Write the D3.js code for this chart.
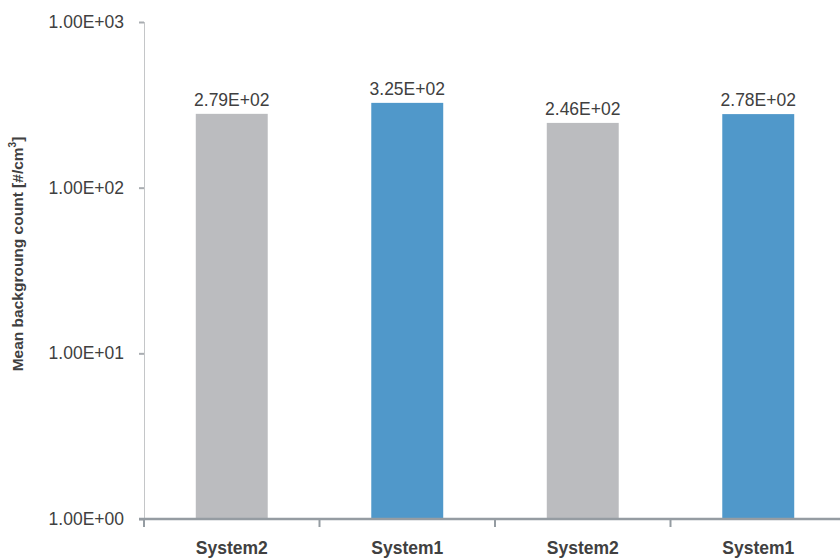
<!DOCTYPE html>
<html>
<head>
<meta charset="utf-8">
<script src="https://cdn.jsdelivr.net/npm/d3@7"></script>
<style>
  html, body { margin: 0; padding: 0; background: #ffffff; }
  svg { display: block; font-family: "Liberation Sans", Arial, sans-serif; }
</style>
</head>
<body>
<svg id="chart" width="840" height="559"></svg>
<script>
// Mean background count per measurement system
const categories = ["System2", "System1", "System2", "System1"];
const values = [279, 325, 246, 278];
const valueLabels = ["2.79E+02", "3.25E+02", "2.46E+02", "2.78E+02"];
const barColors = ["#bbbcbf", "#5098ca", "#bbbcbf", "#5098ca"];
const yTicks = [1, 10, 100, 1000];
const yTickLabels = ["1.00E+00", "1.00E+01", "1.00E+02", "1.00E+03"];

const svg = d3.select("#chart");
const plotLeft = 144, plotRight = 846, plotTop = 22, plotBottom = 519;

const x = d3.scaleBand()
  .domain(d3.range(categories.length))
  .range([plotLeft, plotRight])
  .paddingInner(0.59)
  .paddingOuter(0.295);

const y = d3.scaleLog()
  .domain([1, 1000])
  .range([plotBottom, plotTop]);

// Y axis: light vertical line with short ticks to the left
const yAxis = svg.append("g")
  .attr("transform", `translate(${plotLeft},0)`)
  .call(d3.axisLeft(y).tickValues(yTicks).tickSize(5).tickPadding(15)
    .tickFormat((d, i) => yTickLabels[i]));
yAxis.select(".domain").attr("stroke", "#c4c6c8").attr("stroke-width", 1)
  .attr("d", `M0.5,${plotTop}V${plotBottom}`);
yAxis.selectAll(".tick line").attr("stroke", "#a9adb1").attr("stroke-width", 2);
yAxis.selectAll(".tick text")
  .attr("fill", "#404040")
  .attr("font-size", "17.5px")
  .attr("font-family", "'Liberation Sans', Arial, sans-serif");

// Bars
svg.append("g").selectAll("rect")
  .data(values)
  .join("rect")
  .attr("x", (d, i) => x(i))
  .attr("width", x.bandwidth())
  .attr("y", d => y(d))
  .attr("height", d => plotBottom - y(d))
  .attr("fill", (d, i) => barColors[i]);

// Value labels above bars
svg.append("g").selectAll("text")
  .data(values)
  .join("text")
  .attr("x", (d, i) => x(i) + x.bandwidth() / 2)
  .attr("y", d => y(d) - 8)
  .attr("text-anchor", "middle")
  .attr("font-size", "17.5px")
  .attr("fill", "#404040")
  .text((d, i) => valueLabels[i]);

// X axis: thick baseline with boundary ticks below
const xAxis = svg.append("g");
xAxis.append("line")
  .attr("x1", plotLeft - 5).attr("x2", plotRight)
  .attr("y1", plotBottom).attr("y2", plotBottom)
  .attr("stroke", "#959ca2").attr("stroke-width", 2.5);
const boundaries = d3.range(categories.length + 1).map(i => plotLeft + i * x.step());
xAxis.selectAll("line.b")
  .data(boundaries)
  .join("line")
  .attr("class", "b")
  .attr("x1", d => d).attr("x2", d => d)
  .attr("y1", plotBottom).attr("y2", plotBottom + 8)
  .attr("stroke", "#959ca2").attr("stroke-width", 2);

xAxis.selectAll("text")
  .data(categories)
  .join("text")
  .attr("x", (d, i) => x(i) + x.bandwidth() / 2)
  .attr("y", 554)
  .attr("text-anchor", "middle")
  .attr("font-size", "17.5px")
  .attr("font-weight", "bold")
  .attr("fill", "#404040")
  .text(d => d);

// Y axis title
const title = svg.append("text")
  .attr("transform", "translate(23,254) rotate(-90)")
  .attr("text-anchor", "middle")
  .attr("font-size", "15.5px")
  .attr("font-weight", "bold")
  .attr("fill", "#404040");
title.append("tspan").text("Mean backgroung count [#/cm");
title.append("tspan").attr("font-size", "10px").attr("dy", "-7").text("3");
title.append("tspan").attr("dy", "7").text("]");
</script>
</body>
</html>
